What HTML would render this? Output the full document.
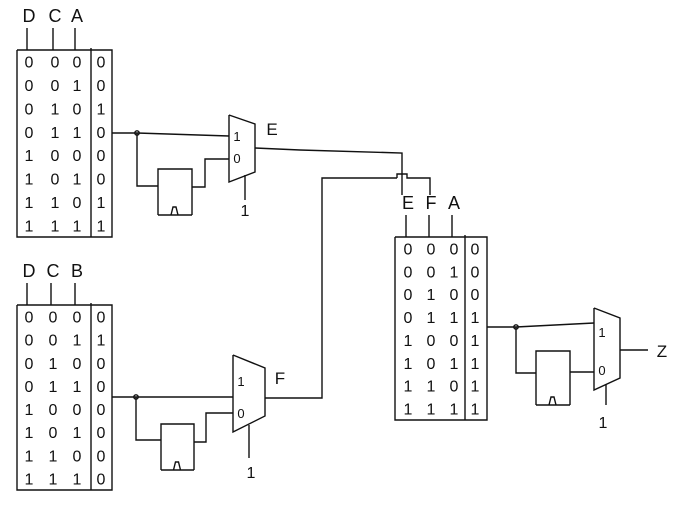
<!DOCTYPE html>
<html><head><meta charset="utf-8">
<style>
html,body{margin:0;padding:0;background:#fff;}
svg{display:block;}
text{font-family:"Liberation Sans",sans-serif;font-size:15px;fill:#111;}
</style></head>
<body>
<svg id="s" width="693" height="529" viewBox="0 0 693 529" stroke="#111" stroke-width="1.4" fill="none">
</svg>
<script>
const table1Rows = ["0000","0010","0101","0110","1000","1010","1101","1111"];
const table2Rows = ["0000","0011","0100","0110","1000","1010","1100","1110"];
const table3Rows = ["0000","0010","0100","0111","1001","1011","1101","1111"];
const table1Labels = ["D","C","A"];
const table2Labels = ["D","C","B"];
const table3Labels = ["E","F","A"];

const svg = document.getElementById('s');
const NS = 'http://www.w3.org/2000/svg';
function line(pts, name){
  const p = document.createElementNS(NS,'polyline');
  p.setAttribute('points', pts.map(a=>a.join(',')).join(' '));
  
  
  svg.appendChild(p); return p;
}
function txt(x,y,s,name,size){
  const t = document.createElementNS(NS,'text');
  t.setAttribute('x',x); t.setAttribute('y',y);
  t.setAttribute('text-anchor','middle');
  t.setAttribute('stroke','none');
  if(size) t.style.fontSize=size+'px';
  t.textContent = s;
  
  
  svg.appendChild(t); return t;
}
function dot(x,y){
  const c=document.createElementNS(NS,'circle');
  c.setAttribute('cx',x);c.setAttribute('cy',y);c.setAttribute('r',2.2);
  
  
  svg.appendChild(c);
}
function table(x0,x1,div,y0,y1,cols,labels,rows,tag){
  line([[x0,y0],[x1,y0],[x1,y1],[x0,y1],[x0,y0]], tag+'-table-border');
  line([[div,y0-2],[div,y1]], tag+'-table-divider');
  labels.forEach((l,i)=>{
    txt(cols[i],y0-28,l,tag+'-input-label',18);
    line([[cols[i]-2,y0-22],[cols[i]-2,y0]], tag+'-input-wire');
  });
  const step=(y1-y0)/rows.length;
  rows.forEach((r,ri)=>{
    for(let c=0;c<4;c++){
      txt(cols[c],y0+step*(ri+0.5)+6,r[c],tag+'-cell',16);
    }
  });
}
function reg(x0,y0,x1,y1,tag){
  line([[x0,y1],[x0,y0],[x1,y0],[x1,y1]], tag+'-register');
  line([[x0,y1],[x1,y1]], tag+'-register-bottom');
  const m=(x0+x1)/2;
  line([[m-4,y1],[m-2,y1-8],[m+1,y1-8],[m+3,y1]], tag+'-clock-symbol');
}
function mux(xl,xr,lt,lb,rt,rb,i1,i0,tag){
  line([[xl,lt],[xr,rt],[xr,rb],[xl,lb],[xl,lt]], tag+'-mux');
  txt(xl+8,i1+5,'1',tag+'-mux-in1',13);
  txt(xl+8,i0+5,'0',tag+'-mux-in0',13);
}
// Block 1
table(17,112,91,50,237,[29,55,77,101],table1Labels,table1Rows,'t1');
line([[112,133],[137,133],[229,136]],'t1-out-wire'); dot(137,133);
line([[137,133],[137,186],[158,186]],'t1-reg-in');
reg(158,169,192,215,'t1');
line([[192,187],[205,187],[205,159],[229,159]],'t1-reg-out');
mux(229,255,115,182,124,172,136,158,'t1');
line([[245,175],[245,200]],'t1-select'); txt(245,216,'1','t1-select-label',16);
txt(272,135,'E','mux-e-label',17);
line([[255,148],[300,150],[402,153],[402,175]],'e-wire');
// Block 2
table(17,112,91,305,490,[29,53,77,101],table2Labels,table2Rows,'t2');
line([[112,397],[136,397],[233,397]],'t2-out-wire'); dot(136,397);
line([[136,397],[136,440],[161,440]],'t2-reg-in');
reg(161,424,194,470,'t2');
line([[194,442],[206,442],[206,413],[233,413]],'t2-reg-out');
mux(233,265,355,432,368,416,381,413,'t2');
line([[249,425],[249,458]],'t2-select'); txt(251,478,'1','t2-select-label',16);
txt(280,384,'F','mux-f-label',17);
line([[265,398],[322,398],[322,178],[397,178]],'f-wire');
line([[397,178],[397,174],[407,174],[407,178],[430,178],[430,195]],'f-wire-hop');
line([[402,175],[402,195]],'e-wire-down');
// Block 3
table(395,487,465,237,420,[408,431,454,475],table3Labels,table3Rows,'t3');
line([[487,327],[516,327],[594,323]],'t3-out-wire'); dot(516,327);
line([[516,327],[516,373],[536,373]],'t3-reg-in');
reg(536,351,570,405,'t3');
line([[570,372],[594,372]],'t3-reg-out');
mux(594,620,308,390,318,378,332,370,'t3');
line([[606,384],[606,405]],'t3-select'); txt(603,428,'1','t3-select-label',16);
line([[620,350],[648,350]],'z-wire');
txt(662,357,'Z','z-label',17);
</script>
</body></html>
